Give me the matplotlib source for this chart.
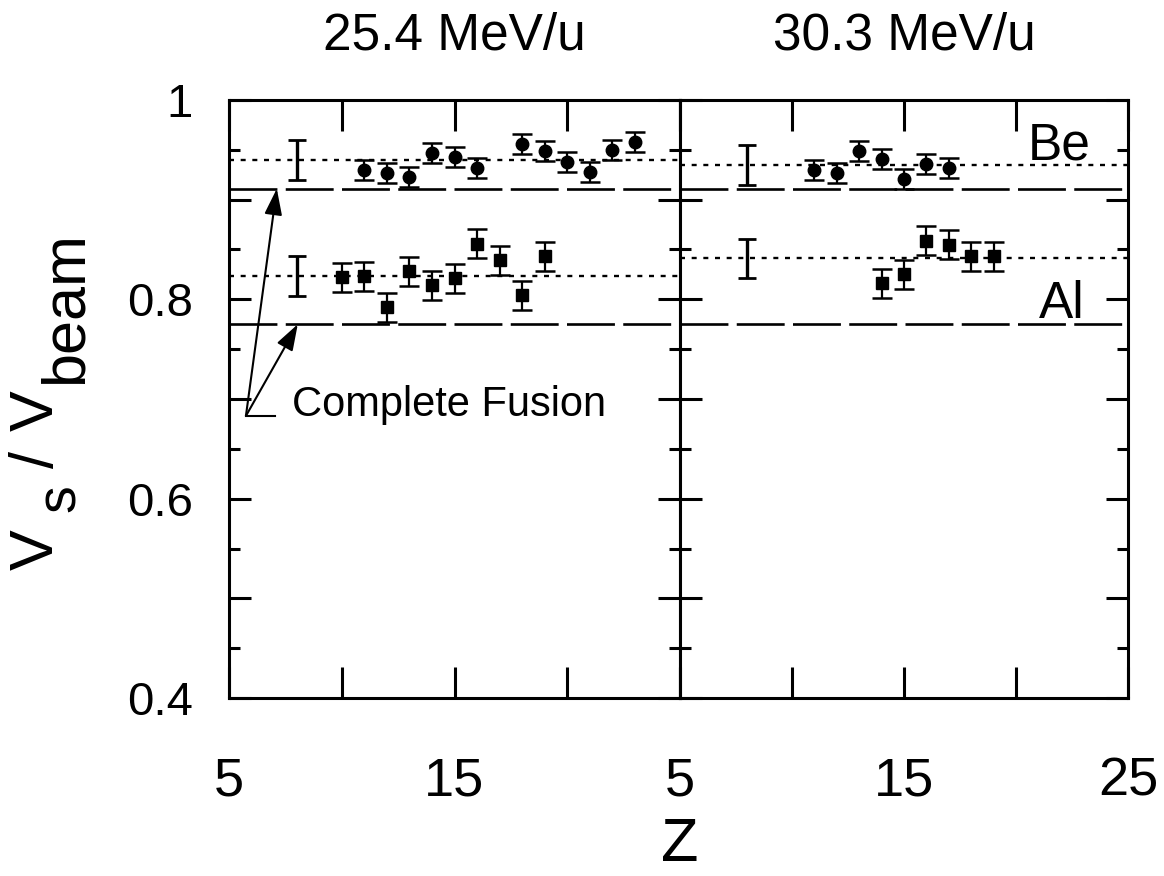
import numpy as np
import matplotlib.pyplot as plt
from matplotlib.ticker import MultipleLocator

plt.rcParams['font.family'] = ['Liberation Sans', 'DejaVu Sans']
plt.rcParams['lines.scale_dashes'] = False

# 25.4 MeV/u, Be target (circles)
z_be_254 = [11, 12, 13, 14, 15, 16, 18, 19, 20, 21, 22, 23]
v_be_254 = [0.930, 0.927, 0.923, 0.947, 0.943, 0.932, 0.956, 0.949, 0.938, 0.928, 0.950, 0.958]
e_be_254 = [0.010] * len(z_be_254)

# 25.4 MeV/u, Al target (squares)
z_al_254 = [10, 11, 12, 13, 14, 15, 16, 17, 18, 19]
v_al_254 = [0.822, 0.823, 0.792, 0.828, 0.814, 0.821, 0.856, 0.839, 0.804, 0.843]
e_al_254 = [0.0147] * len(z_al_254)

# 30.3 MeV/u, Be target
z_be_303 = [11, 12, 13, 14, 15, 16, 17]
v_be_303 = [0.930, 0.927, 0.949, 0.941, 0.921, 0.936, 0.932]
e_be_303 = [0.010] * len(z_be_303)

# 30.3 MeV/u, Al target
z_al_303 = [14, 15, 16, 17, 18, 19]
v_al_303 = [0.816, 0.825, 0.859, 0.855, 0.843, 0.843]
e_al_303 = [0.0147] * len(z_al_303)

# averages (dotted), complete fusion (dashed), typical error bar at Z=8
avg_254 = [0.940, 0.8235]
avg_303 = [0.935, 0.841]
fusion = [0.911, 0.775]
ref_z = 8
ref_err = 0.02

titles = ['25.4 MeV/u', '30.3 MeV/u']
xtick_vals = [5, 10, 15, 20, 25]
xlabels_left = ['5', '', '15', '', '']
xlabels_right = ['5', '', '15', '', '25']
ytick_vals = [0.4, 0.5, 0.6, 0.7, 0.8, 0.9, 1.0]
ylabels = ['0.4', '', '0.6', '', '0.8', '', '1']

W, H = 1164, 876
fig = plt.figure(figsize=(W / 100, H / 100), dpi=100)
bottom = (H - 698) / H
height = 598 / H
ax1 = fig.add_axes([229 / W, bottom, (680 - 229) / W, height])
ax2 = fig.add_axes([680 / W, bottom, (1128 - 680) / W, height])

panels = [
    (ax1, z_be_254, v_be_254, e_be_254, z_al_254, v_al_254, e_al_254, avg_254, xlabels_left),
    (ax2, z_be_303, v_be_303, e_be_303, z_al_303, v_al_303, e_al_303, avg_303, xlabels_right),
]

for i, (ax, zb, vb, eb, za, va, ea, avg, xl) in enumerate(panels):
    ax.errorbar(zb, vb, yerr=eb, fmt='o', ms=9, color='black',
                elinewidth=1.6, capsize=7, capthick=1.8)
    ax.errorbar(za, va, yerr=ea, fmt='s', ms=8.5, color='black',
                elinewidth=1.6, capsize=7, capthick=1.8)
    ax.errorbar([ref_z, ref_z], avg, yerr=ref_err, fmt='none', ecolor='black',
                elinewidth=2.4, capsize=6.5, capthick=2)
    for a in avg:
        ax.axhline(a, color='black', lw=1.7, ls=(0, (3.6, 4.8)))
    for f in fusion:
        ax.axhline(f, color='black', lw=1.9, ls=(0, (34.5, 6)))

    ax.set_xlim(5, 25)
    ax.set_ylim(0.4, 1.0)
    ax.set_xticks(xtick_vals)
    ax.set_xticklabels(xl)
    ax.set_yticks(ytick_vals)
    ax.set_yticklabels(ylabels)
    ax.yaxis.set_minor_locator(MultipleLocator(0.05))
    ax.tick_params(which='both', direction='in', top=True, right=True, width=2.2)
    ax.tick_params(axis='x', which='major', length=22.5, labelsize=39, pad=42)
    ax.tick_params(axis='y', which='major', length=16, labelsize=34, pad=26)
    ax.tick_params(axis='y', which='minor', length=8)
    if i == 1:
        ax.tick_params(axis='y', labelleft=False)
    for s in ax.spines.values():
        s.set_linewidth(2.2)
    ax.set_title(titles[i], fontsize=37, pad=36)

# complete fusion annotation
corner = (5.75, 0.683)
arrow = dict(arrowstyle='-|>,head_length=0.8,head_width=0.27',
             color='black', lw=1.5, mutation_scale=20, shrinkA=0, shrinkB=0)
ax1.annotate('', xy=(7.12, fusion[0]), xytext=corner, arrowprops=arrow)
ax1.annotate('', xy=(8.05, fusion[1]), xytext=corner, arrowprops=arrow)
ax1.plot([corner[0], 7.04], [corner[1], corner[1]], color='black', lw=1.5)
ax1.text(7.79, corner[1], 'Complete Fusion', fontsize=30, ha='left', va='baseline')

ax2.text(20.54, 0.940, 'Be', fontsize=37, ha='left', va='baseline')
ax2.text(21.03, 0.781, 'Al', fontsize=37, ha='left', va='baseline')

# x label
fig.text(680 / W, 2 / H, 'Z', fontsize=44, ha='center', va='bottom')

# y label built from pieces: V_s / V_beam
pieces = [
    ('V', 53, 570, 44),
    ('s', 75, 512, 40),
    ('/', 53, 468, 44),
    ('V', 53, 431, 44),
    ('beam', 82, 384, 44),
]
for txt, bx, by, fs in pieces:
    fig.text(bx / W, (H - by) / H, txt, fontsize=fs, rotation=90,
             rotation_mode='anchor', ha='left', va='baseline')

fig.savefig('out.png', dpi=100)
